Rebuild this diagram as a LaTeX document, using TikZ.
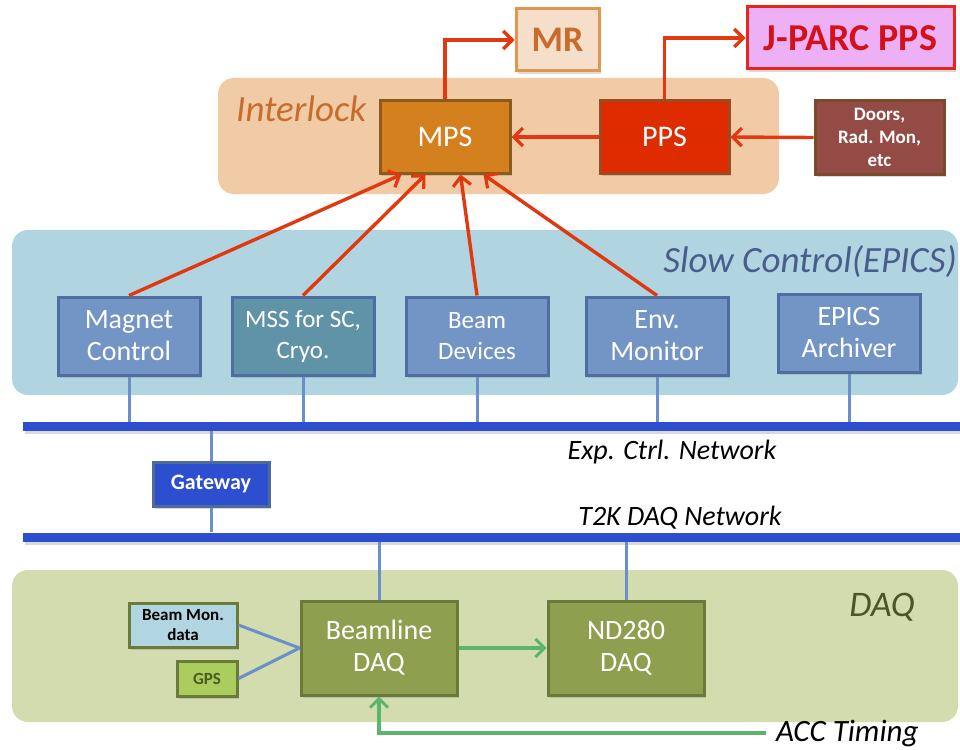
\documentclass[tikz,border=0pt]{standalone}
\usepackage{fontspec}
\setmainfont{Carlito}
\usepackage{xcolor}
\usetikzlibrary{arrows.meta, positioning, shadows, calc}

\definecolor{ilockbg}{HTML}{F1CBA5}
\definecolor{ilocktext}{HTML}{C76D2C}
\definecolor{mpsfill}{HTML}{D4801F}
\definecolor{mpsdraw}{HTML}{8E5A1C}
\definecolor{ppsfill}{HTML}{DE2C00}
\definecolor{ppsdraw}{HTML}{9E4A20}
\definecolor{doorfill}{HTML}{954B45}
\definecolor{doordraw}{HTML}{7A4B2A}
\definecolor{mrfill}{HTML}{F6DFCA}
\definecolor{mrdraw}{HTML}{E0964F}
\definecolor{mrtext}{HTML}{C96B29}
\definecolor{jpfill}{HTML}{EDB0F5}
\definecolor{jpdraw}{HTML}{E8241F}
\definecolor{jptext}{HTML}{D4101A}
\definecolor{redline}{HTML}{E2380F}
\definecolor{scbg}{HTML}{B1D5E0}
\definecolor{sctext}{HTML}{4A5D8A}
\definecolor{scfill}{HTML}{7295C6}
\definecolor{scdraw}{HTML}{4F6DA0}
\definecolor{mssfill}{HTML}{6093A8}
\definecolor{netblue}{HTML}{2C4ECF}
\definecolor{thinblue}{HTML}{6A8FC9}
\definecolor{gwdraw}{HTML}{4E6B9C}
\definecolor{daqbg}{HTML}{D3DCAE}
\definecolor{daqtext}{HTML}{4B5526}
\definecolor{daqfill}{HTML}{8EA04F}
\definecolor{daqdraw}{HTML}{697A3A}
\definecolor{bmfill}{HTML}{B1D6E2}
\definecolor{gpsfill}{HTML}{AACD5E}
\definecolor{gpstext}{HTML}{4C5A24}
\definecolor{greenline}{HTML}{5DB56B}

\begin{document}
\begin{tikzpicture}[x=1pt, y=-1pt,
  box/.style={rectangle, draw, line width=3pt, align=center, text=white, inner sep=1pt,
    drop shadow={opacity=0.3, shadow xshift=2pt, shadow yshift=-3pt}},
  scbox/.style={box, fill=scfill, draw=scdraw, minimum width=142pt, minimum height=78pt,
    font=\fontsize{28}{32}\selectfont},
  daqbox/.style={box, fill=daqfill, draw=daqdraw, minimum width=156pt, minimum height=94pt,
    font=\fontsize{28}{32}\selectfont},
  region/.style={rectangle, rounded corners=16pt, inner sep=0pt},
  netbar/.style={rectangle, fill=netblue, inner sep=0pt, minimum width=937pt, minimum height=9pt,
    drop shadow={opacity=0.3, shadow xshift=2pt, shadow yshift=-3pt}},
  redarrow/.style={-{Straight Barb[length=9pt, width=18pt, line width=3.2pt]}, draw=redline, line width=3.4pt},
  greenarrow/.style={-{Straight Barb[length=9pt, width=18pt, line width=3pt]}, draw=greenline, line width=3.2pt},
  link/.style={draw=thinblue, line width=3pt},
  lbl/.style={font=\itshape, inner sep=0pt}]

  \useasboundingbox (0,0) rectangle (960,749);

  % groups in the background
  \node[region, fill=ilockbg, minimum width=561pt, minimum height=116pt] (ilock) at (498.5,136) {};
  \node[region, fill=scbg, minimum width=946pt, minimum height=165pt] (slow) at (485,312.5) {};
  \node[region, fill=daqbg, minimum width=946pt, minimum height=152pt] (daq) at (485,646) {};
  \node[lbl, text=ilocktext, font=\itshape\fontsize{37}{40}\selectfont, anchor=west] (ilocklbl) at (236,109) {Interlock};
  \node[lbl, text=sctext, font=\itshape\fontsize{37}{40}\selectfont, anchor=east] (slowlbl) at (957,262) {Slow Control(EPICS)};
  \node[lbl, text=daqtext, font=\itshape\fontsize{36}{40}\selectfont] (daqlbl) at (882,607) {DAQ};

  % interlock
  \node[box, fill=mpsfill, draw=mpsdraw, minimum width=130pt, minimum height=72pt,
    font=\fontsize{30}{34}\selectfont] (mps) at (445,137) {MPS};
  \node[box, fill=ppsfill, draw=ppsdraw, minimum width=129pt, minimum height=72pt,
    font=\fontsize{30}{34}\selectfont] (pps) at (664.5,137) {PPS};
  \node[box, fill=doorfill, draw=doordraw, minimum width=129pt, minimum height=73pt,
    font=\bfseries\fontsize{19}{23}\selectfont] (doors) at (879.5,137.5) {Doors,\\Rad. Mon,\\etc};
  \node[box, fill=mrfill, draw=mrdraw, text=mrtext, minimum width=83pt, minimum height=62pt,
    font=\bfseries\fontsize{36}{40}\selectfont] (mr) at (557.5,40) {MR};
  \node[box, fill=jpfill, draw=jpdraw, text=jptext, minimum width=207pt, minimum height=62pt,
    font=\bfseries\fontsize{38}{42}\selectfont] (jparc) at (850.5,38) {J-PARC PPS};

  % slow control
  \node[scbox] (mag) at (129,336) {Magnet\\Control};
  \node[scbox, fill=mssfill, font=\fontsize{25}{31}\selectfont] (mss) at (303,336) {MSS for SC,\\Cryo.};
  \node[scbox, font=\fontsize{25}{31}\selectfont] (bdev) at (477,336) {Beam\\Devices};
  \node[scbox] (env) at (657,336) {Env.\\Monitor};
  \node[scbox] (arch) at (849,333) {EPICS\\Archiver};

  % networks
  \node[netbar] (expnet) at (491.5,426.5) {};
  \node[netbar] (daqnet) at (491.5,537) {};
  \node[lbl, font=\itshape\fontsize{28}{32}\selectfont] (explbl) at (672,452) {Exp. Ctrl. Network};
  \node[lbl, font=\itshape\fontsize{28}{32}\selectfont] (daqnetlbl) at (680,518) {T2K DAQ Network};
  \node[box, fill=netblue, draw=gwdraw, minimum width=116pt, minimum height=44pt,
    font=\bfseries\fontsize{22}{26}\selectfont] (gw) at (211,484) {Gateway};

  % daq
  \node[daqbox] (bl) at (379,648) {Beamline\\DAQ};
  \node[daqbox] (nd) at (626,648) {ND280\\DAQ};
  \node[box, fill=bmfill, draw=daqdraw, text=black, minimum width=108pt, minimum height=44pt,
    font=\bfseries\fontsize{17}{20}\selectfont] (bmon) at (183,625) {Beam Mon.\\data};
  \node[box, fill=gpsfill, draw=daqdraw, text=gpstext, minimum width=60pt, minimum height=35pt,
    font=\bfseries\fontsize{17}{20}\selectfont] (gps) at (207,678.5) {GPS};
  \node[lbl, font=\itshape\fontsize{31}{36}\selectfont, anchor=west] (acc) at (776,733) {ACC Timing};

  % interlock arrows
  \draw[redarrow] (mps.north) |- (mr.west);
  \draw[redarrow] (pps.north) |- (jparc.west);
  \draw[redarrow] (pps.west) -- (mps.east);
  \draw[redarrow] (doors.west) -- (pps.east);
  \draw[redarrow] (mag.north) -- ($(mps.south west)+(23,0)$);
  \draw[redarrow] (mss.north) -- ($(mps.south west)+(47,0)$);
  \draw[redarrow] (bdev.north) -- ($(mps.south west)+(82,0)$);
  \draw[redarrow] (env.north) -- ($(mps.south west)+(105,0)$);

  % network links
  \foreach \n in {mag, mss, bdev, env, arch}
    \draw[link] (\n.south) -- (\n.south |- expnet.north);
  \draw[link] (gw.north) -- (gw.north |- expnet.south);
  \draw[link] (gw.south) -- (gw.south |- daqnet.north);
  \draw[link] (bl.north) -- (bl.north |- daqnet.south);
  \draw[link] (nd.north) -- (nd.north |- daqnet.south);
  \draw[link] (bmon.east) -- (bl.west);
  \draw[link] (gps.east) -- (bl.west);

  % daq flow
  \draw[greenarrow] (bl.east) -- (nd.west);
  \draw[greenarrow] ([xshift=-10pt]acc.west) -| (bl.south);
\end{tikzpicture}
\end{document}
